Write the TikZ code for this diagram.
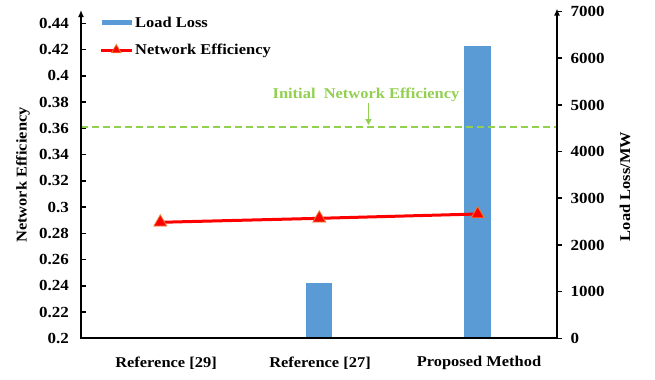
\documentclass[tikz,border=0pt]{standalone}
\usepackage{fontspec}
\setmainfont{Liberation Serif}[FakeStretch=1.1]
\usetikzlibrary{arrows.meta,shapes.geometric}
\definecolor{barblue}{HTML}{5B9BD5}
\definecolor{effgreen}{HTML}{92D050}
\definecolor{triedge}{HTML}{ED7D31}
\begin{document}
\begin{tikzpicture}[x=1bp,y=-1bp,
  txt/.style={font=\fontsize{15}{18}\selectfont\bfseries, inner sep=0pt},
  ticktxt/.style={font=\fontsize{15.5}{18}\selectfont\bfseries, inner sep=0pt},
  axisline/.style={line width=2bp, black},
  tickline/.style={line width=1.6bp, black},
  bar/.style={fill=barblue, draw=none},
  effline/.style={red, line width=3bp},
  tri/.style={regular polygon, regular polygon sides=3, minimum size=15bp, inner sep=0pt, fill=red, draw=triedge, line width=0.8bp},
  initline/.style={effgreen, line width=2bp, dash pattern=on 7bp off 4bp}]
\useasboundingbox (0,0) rectangle (655,379);
% bars
\fill[bar] (306,338.3) rectangle (332,282.7);
\fill[bar] (464.3,338.3) rectangle (490.7,46);
% initial efficiency line
\coordinate (gl) at (81,126.5);
\coordinate (gr) at (557,126.5);
\draw[initline] (gl) -- (gr);
\node[txt, text=effgreen] (initlbl) at (366,95) {Initial\ \ Network Efficiency};
\coordinate (arrtop) at (368.5,103);
\coordinate (arrbot) at (368.5,125);
\draw[effgreen, line width=1.2bp, -{Triangle[length=6bp,width=6bp]}] (arrtop) -- (arrbot);
% axes
\coordinate (o) at (81,338.3);
\coordinate (ltop) at (81,10);
\coordinate (r0) at (557,338.3);
\coordinate (rtop) at (557,8.5);
\draw[axisline, -{Latex[length=7bp,width=6bp]}] (o) -- (ltop);
\draw[axisline, -{Latex[length=7bp,width=6bp]}] (r0) -- (rtop);
\draw[axisline] (80,338.3) -- (558,338.3);
% left ticks
\foreach \v/\l in {0/0.2,1/0.22,2/0.24,3/0.26,4/0.28,5/0.3,6/0.32,7/0.34,8/0.36,9/0.38,10/0.4,11/0.42,12/0.44}{
  \draw[tickline] (81,338.3-\v*26.25) -- (86,338.3-\v*26.25);
  \node[ticktxt, anchor=east] at (69,338.3-\v*26.25) {\l};
}
% right ticks
\foreach \v in {0,1,...,7}{
  \draw[tickline] (557,338.3-\v*46.67) -- (562,338.3-\v*46.67);
  \node[ticktxt, anchor=west] at (570.5,338.3-\v*46.67) {\pgfmathparse{int(\v*1000)}\pgfmathresult};
}
% efficiency line
\coordinate (p1) at (160.3,222.3);
\coordinate (p2) at (319.3,218.3);
\coordinate (p3) at (477.7,214);
\draw[effline] (p1) -- (p2) -- (p3);
\node[tri] (t1) at (p1) {};
\node[tri] (t2) at (p2) {};
\node[tri] (t3) at (p3) {};
% category labels
\node[txt] (c1) at (166,363) {Reference [29]};
\node[txt] (c2) at (320,363) {Reference [27]};
\node[txt] (c3) at (479,363) {Proposed Method};
% axis titles
\node[txt, rotate=90] (ytl) at (23,175) {Network Efficiency};
\node[txt, rotate=90] (ytr) at (625,186.5) {Load Loss/MW};
% legend
\fill[bar] (101.7,20) rectangle (131.7,24.5);
\node[txt, anchor=west] (lg1) at (135,22) {Load Loss};
\coordinate (la) at (101,50.5);
\coordinate (lb) at (131.7,50.5);
\draw[effline] (la) -- (lb);
\node[tri, minimum size=11bp] (lt) at (116.3,50) {};
\node[txt, anchor=west] (lg2) at (135,50.5) {Network Efficiency};
\end{tikzpicture}
\end{document}
